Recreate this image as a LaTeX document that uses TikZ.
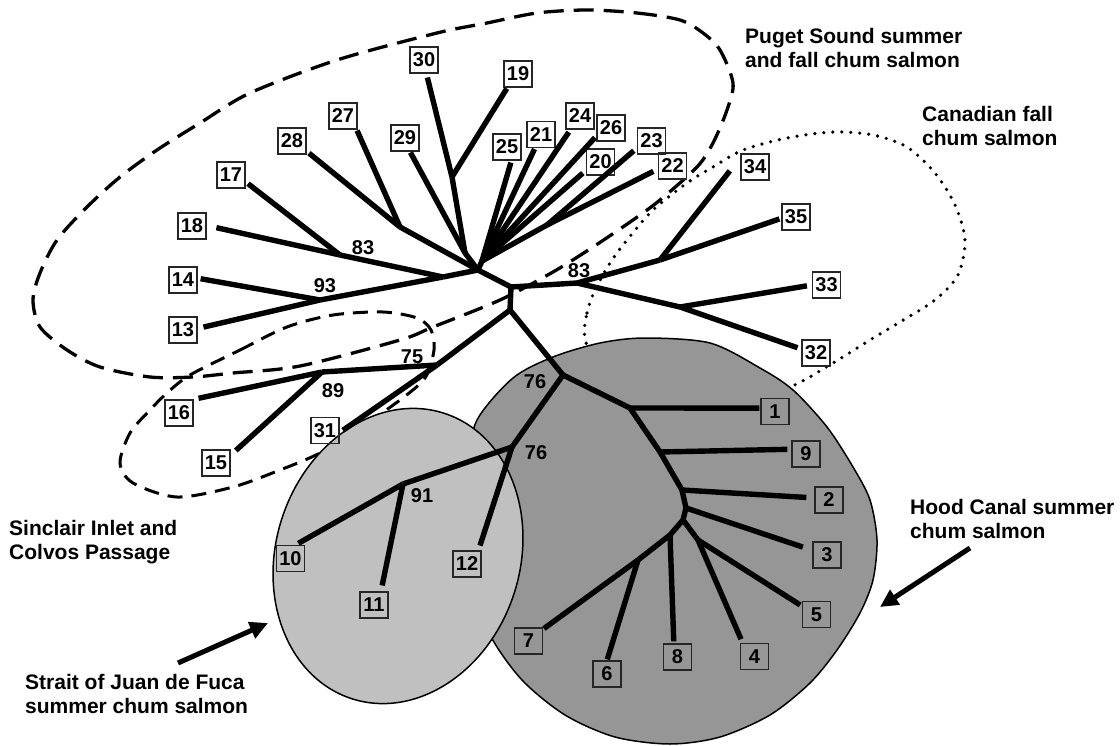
\documentclass[tikz,border=0pt]{standalone}
\usepackage{fontspec}
\setmainfont{Liberation Sans}[BoldFont={Liberation Sans Bold}]
\usetikzlibrary{arrows.meta}
\definecolor{hoodgray}{RGB}{150,150,150}
\definecolor{straitgray}{RGB}{192,192,192}
\begin{document}
\begin{tikzpicture}[x=1pt,y=-1pt,
  br/.style={line width=5.4pt, line join=round},
  leafbox/.style={draw=black!85, line width=1.3pt, minimum width=28pt, minimum height=26pt, inner sep=0pt, font=\fontsize{20}{22}\selectfont\bfseries},
  blab/.style={font=\fontsize{20}{22}\selectfont\bfseries, inner sep=0pt},
  grouptitle/.style={font=\fontsize{21}{24}\selectfont\bfseries, align=left, anchor=north west, inner sep=0pt},
  bigdash/.style={line width=3.3pt, dash pattern=on 20pt off 10pt},
  smalldash/.style={line width=3pt, dash pattern=on 15pt off 9pt},
  dotline/.style={line width=3.6pt, line cap=round, dash pattern=on 0pt off 9pt},
  bigarrow/.style={line width=5pt, -{Triangle[length=18pt,width=17pt]}}
]
\useasboundingbox (0,0) rectangle (1120,746);

% group outlines
\draw[bigdash] plot[smooth cycle] coordinates {(587,10) (637,13) (680,20) (703,33) (720,50) (733,83) (727,110) (713,143) (697,167) (660,200) (633,220) (593,247) (553,272) (500,300) (433,327) (400,340) (300,366) (233,373) (193,377) (150,377) (100,367) (67,350) (40,327) (33,300) (40,273) (57,240) (87,207) (120,177) (157,150) (200,123) (250,93) (337,60) (437,33) (487,23) (537,13)};
\draw[smalldash] plot[smooth cycle] coordinates {(190,375) (240,350) (287,327) (333,315) (383,312) (417,318) (431,330) (434,350) (425,378) (400,400) (360,428) (320,453) (280,470) (233,487) (177,497) (133,483) (120,463) (130,433) (150,410) (167,393)};
\draw[dotline] plot[smooth cycle] coordinates {(585,338) (587,313) (595,290) (610,263) (627,240) (653,210) (687,183) (713,167) (743,150) (787,138) (833,132) (873,135) (907,147) (935,173) (955,205) (965,240) (958,275) (935,300) (900,322) (870,340) (833,363) (790,387) (720,410) (640,400) (600,375)};

% Hood Canal and Strait regions
\fill[hoodgray] plot[smooth cycle] coordinates {(477,420) (513,378) (553,357) (600,343) (645,338) (710,343) (760,368) (793,390) (827,427) (853,467) (870,500) (877,540) (873,580) (860,613) (837,650) (810,683) (770,715) (720,737) (670,744) (615,737) (565,715) (522,680) (490,635) (470,580) (465,520) (468,465)};
\draw[line width=1.5pt] plot[smooth cycle] coordinates {(477,420) (513,378) (553,357) (600,343) (645,338) (710,343) (760,368) (793,390) (827,427) (853,467) (870,500) (877,540) (873,580) (860,613) (837,650) (810,683) (770,715) (720,737) (670,744) (615,737) (565,715) (522,680) (490,635) (470,580) (465,520) (468,465)};
\draw[line width=1.5pt, fill=straitgray, rotate around={-18:(398,556)}] (398,556) ellipse [x radius=122, y radius=150];

% leaf boxes
\node[leafbox] (b1) at (775,411.5) {1};
\node[leafbox] (b2) at (829,500) {2};
\node[leafbox] (b3) at (827,555) {3};
\node[leafbox] (b4) at (754.5,656.5) {4};
\node[leafbox] (b5) at (816.5,614.5) {5};
\node[leafbox] (b6) at (607,674) {6};
\node[leafbox] (b7) at (528.5,641) {7};
\node[leafbox] (b8) at (677.5,657) {8};
\node[leafbox] (b9) at (806,454) {9};
\node[leafbox] (b10) at (290.5,558.5) {10};
\node[leafbox] (b11) at (374,605) {11};
\node[leafbox] (b12) at (467,564) {12};
\node[leafbox] (b13) at (183,330) {13};
\node[leafbox] (b14) at (183,280) {14};
\node[leafbox] (b15) at (216,463) {15};
\node[leafbox] (b16) at (179,413) {16};
\node[leafbox] (b17) at (231,175) {17};
\node[leafbox] (b18) at (192,226) {18};
\node[leafbox] (b19) at (518,74) {19};
\node[leafbox] (b20) at (600.5,162) {20};
\node[leafbox] (b21) at (541,134.5) {21};
\node[leafbox] (b22) at (672.5,166) {22};
\node[leafbox] (b23) at (651.5,141) {23};
\node[leafbox] (b24) at (580,116) {24};
\node[leafbox] (b25) at (507,147) {25};
\node[leafbox] (b26) at (611,128) {26};
\node[leafbox] (b27) at (343,116) {27};
\node[leafbox] (b28) at (292,141) {28};
\node[leafbox] (b29) at (405,138) {29};
\node[leafbox] (b30) at (424,60) {30};
\node[leafbox] (b31) at (325,430.5) {31};
\node[leafbox] (b32) at (816,353) {32};
\node[leafbox] (b33) at (826.5,285) {33};
\node[leafbox] (b34) at (755,167) {34};
\node[leafbox] (b35) at (796,217) {35};

% internal nodes
\coordinate (N83L) at (340,255);
\coordinate (Nh) at (443,277);
\coordinate (N93) at (320,300);
\coordinate (N2827) at (400,227);
\coordinate (N3019) at (452,177);
\coordinate (P) at (465,253);
\coordinate (A) at (478,270);
\coordinate (G) at (482,261);
\coordinate (J2322) at (547,225);
\coordinate (B) at (511,287);
\coordinate (C) at (510,310);
\coordinate (N83R) at (577,283);
\coordinate (N3435) at (660,260);
\coordinate (N3332) at (680,307);
\coordinate (N75) at (437,365);
\coordinate (N89) at (322,372);
\coordinate (N76a) at (563,375);
\coordinate (N76b) at (512,447);
\coordinate (N91) at (403,484);
\coordinate (N1) at (630,408);
\coordinate (N9) at (660,452);
\coordinate (N2) at (682,490);
\coordinate (N3) at (686,508);
\coordinate (Nlow) at (683,520);
\coordinate (N678) at (670,535);
\coordinate (N67) at (638,560);
\coordinate (N45) at (698,540);

% tree branches
\draw[br] (B) -- (A);
\draw[br] (B) -- (C);
\draw[br] (B) -- (N83R);
\draw[br] (N83R) -- (N3435);
\draw[br] (N83R) -- (N3332);
\draw[br, shorten >=17pt] (N3435) -- (b34.147);
\draw[br, shorten >=2pt] (N3435) -- (b35.185);
\draw[br, shorten >=5pt] (N3332) -- (b33.180);
\draw[br, shorten >=4pt] (N3332) -- (b32.165);
\draw[br] (C) -- (N75);
\draw[br] (N75) -- (N89);
\draw[br, shorten >=4pt] (N75) -- (b31.352);
\draw[br, shorten >=5pt] (N89) -- (b16.43);
\draw[br, shorten >=7pt] (N89) -- (b15.28);
\draw[br] (C) -- (N76a);
\draw[br] (N76a) -- (N1);
\draw[br] (N76a) -- (N76b);
\draw[br] (N76b) -- (N91);
\draw[br, shorten >=5pt] (N76b) -- (b12.50);
\draw[br, shorten >=3pt] (N91) -- (b10.69);
\draw[br, shorten >=6pt] (N91) -- (b11.63);
\draw[br, shorten >=1pt] (N1) -- (b1.167);
\draw[br] (N1) -- (N9);
\draw[br, shorten >=4pt] (N9) -- (b9.162);
\draw[br] (N9) -- (N2);
\draw[br, shorten >=8pt] (N2) -- (b2.172);
\draw[br] (N2) -- (N3);
\draw[br, shorten >=10pt] (N3) -- (b3.162);
\draw[br] (N3) -- (Nlow);
\draw[br] (Nlow) -- (N678);
\draw[br] (Nlow) -- (N45);
\draw[br] (N678) -- (N67);
\draw[br, shorten >=2pt] (N678) -- (b8.105);
\draw[br, shorten >=1pt] (N67) -- (b7.39);
\draw[br, shorten >=1pt] (N67) -- (b6.90);
\draw[br, shorten >=2pt] (N45) -- (b5.150);
\draw[br, shorten >=4pt] (N45) -- (b4.131);
\draw[br] (A) -- (Nh);
\draw[br] (Nh) -- (N83L);
\draw[br] (Nh) -- (N93);
\draw[br, shorten >=10pt] (N83L) -- (b18.2);
\draw[br, shorten >=3pt] (N83L) -- (b17.335);
\draw[br, shorten >=3pt] (N93) -- (b14.7);
\draw[br, shorten >=6pt] (N93) -- (b13.6);
\draw[br] (A) -- (N2827);
\draw[br, shorten >=3pt] (N2827) -- (b28.325);
\draw[br, shorten >=1pt] (N2827) -- (b27.315);
\draw[br] (A) -- (P);
\draw[br, shorten >=1pt] (P) -- (b29.290);
\draw[br] (P) -- (N3019);
\draw[br, shorten >=4pt] (N3019) -- (b30.280);
\draw[br, shorten >=1pt] (N3019) -- (b19.232);
\draw[br] (A) -- (G);
\draw[br, shorten >=2pt] (G) -- (b25.288);
\draw[br, shorten >=1pt] (G) -- (b21.246);
\draw[br, shorten >=3pt] (G) -- (b24.235);
\draw[br, shorten >=2pt] (G) -- (b26.209);
\draw[br, shorten >=4pt] (G) -- (b20.210);
\draw[br] (G) -- (J2322);
\draw[br, shorten >=4pt] (J2322) -- (b23.206);
\draw[br, shorten >=5pt] (J2322) -- (b22.192);

% bootstrap labels
\node[blab] (l83a) at (363,248) {83};
\node[blab] (l93) at (325,286) {93};
\node[blab] (l83b) at (579,271) {83};
\node[blab] (l75) at (412,357) {75};
\node[blab] (l89) at (333,391) {89};
\node[blab] (l76a) at (535,382) {76};
\node[blab] (l76b) at (536,453) {76};
\node[blab] (l91) at (422,496) {91};

% group titles
\node[grouptitle] (tpuget) at (745,28) {Puget Sound summer\\and fall chum salmon};
\node[grouptitle] (tcan) at (922,106) {Canadian fall\\chum salmon};
\node[grouptitle] (tsinc) at (9,520) {Sinclair Inlet and\\Colvos Passage};
\node[grouptitle] (tstrait) at (25,674) {Strait of Juan de Fuca\\summer chum salmon};
\node[grouptitle] (thood) at (910,499) {Hood Canal summer\\chum salmon};

% arrows
\coordinate (sa0) at (178,663);
\coordinate (sa1) at (268,623);
\coordinate (ha0) at (970,548);
\coordinate (ha1) at (880,607);
\draw[bigarrow] (sa0) -- (sa1);
\draw[bigarrow] (ha0) -- (ha1);
\end{tikzpicture}
\end{document}
